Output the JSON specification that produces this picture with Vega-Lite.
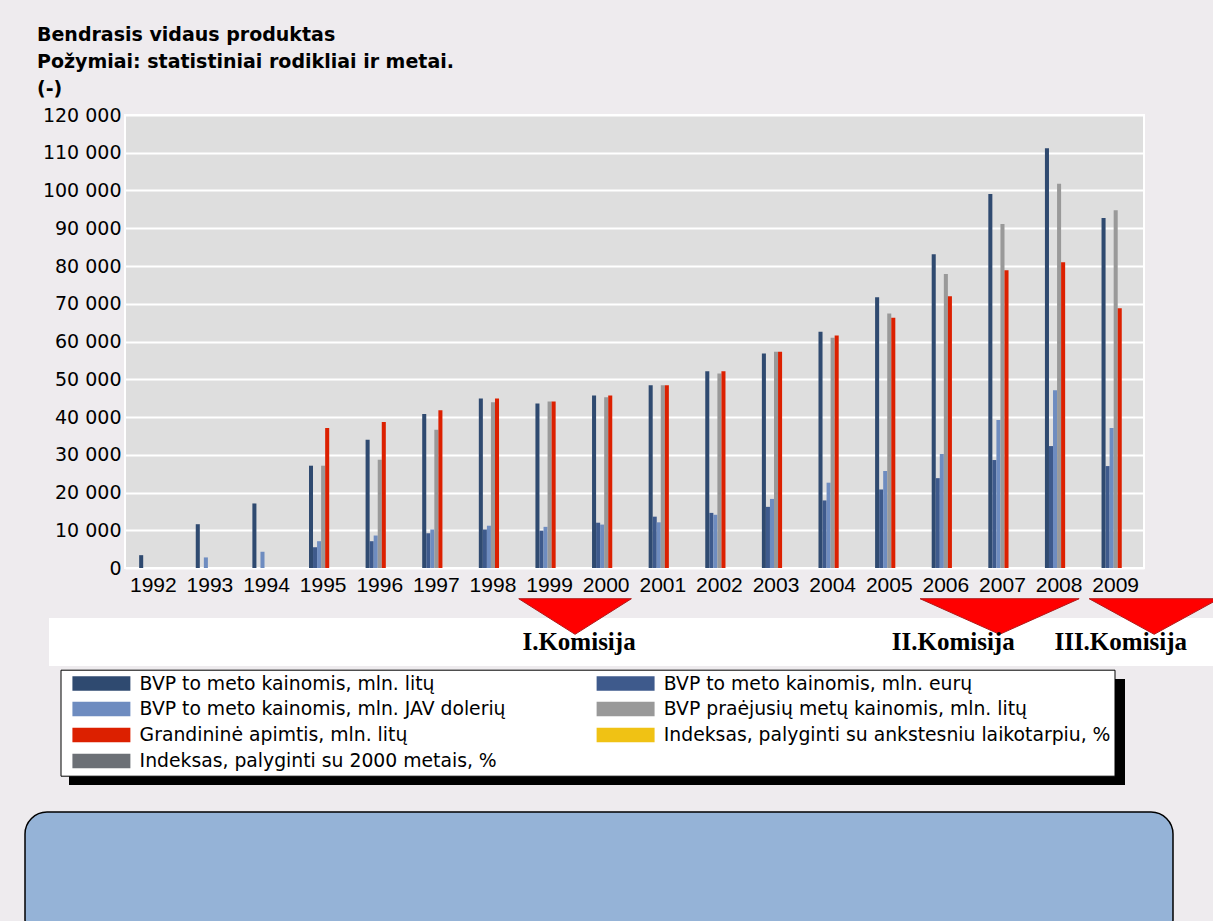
{
  "$schema": "https://vega.github.io/schema/vega-lite/v6.json",
  "background": "#EEEBEE",
  "padding": {"left": 24, "top": 26, "right": 0, "bottom": 0},
  "title": {
    "text": ["Bendrasis vidaus produktas", "Požymiai: statistiniai rodikliai ir metai.", "(-)"],
    "anchor": "start", "frame": "group", "dx": 12, "offset": 6,
    "font": "DejaVu Sans", "fontSize": 19, "fontWeight": "bold", "lineHeight": 27, "color": "black"
  },
  "config": {
    "axis": {"labelColor": "black", "ticks": false, "domain": false, "title": null},
    "legend": {
      "orient": "none", "legendX": 35.5, "legendY": 554.7, "direction": "horizontal",
      "columns": 2, "padding": 4, "rowPadding": 6, "columnPadding": 82.2,
      "strokeColor": "black", "fillColor": "white",
      "symbolType": "M-4,-1L4,-1L4,1L-4,1Z", "symbolSize": 210,
      "symbolOffset": 27.5, "labelOffset": 28.8, "symbolStrokeWidth": 0, "symbolOpacity": 1,
      "labelFont": "DejaVu Sans", "labelFontSize": 18.8, "labelLimit": 1000, "labelColor": "black"
    }
  },
  "datasets": {
    "bvp": [
      {"metai": "1992", "rodiklis": "BVP to meto kainomis, mln. litų", "mln": 3400},
      {"metai": "1993", "rodiklis": "BVP to meto kainomis, mln. litų", "mln": 11600},
      {"metai": "1993", "rodiklis": "BVP to meto kainomis, mln. JAV dolerių", "mln": 2800},
      {"metai": "1994", "rodiklis": "BVP to meto kainomis, mln. litų", "mln": 17100},
      {"metai": "1994", "rodiklis": "BVP to meto kainomis, mln. JAV dolerių", "mln": 4300},
      {"metai": "1995", "rodiklis": "BVP to meto kainomis, mln. litų", "mln": 27100},
      {"metai": "1995", "rodiklis": "BVP to meto kainomis, mln. eurų", "mln": 5500},
      {"metai": "1995", "rodiklis": "BVP to meto kainomis, mln. JAV dolerių", "mln": 7100},
      {"metai": "1995", "rodiklis": "BVP praėjusių metų kainomis, mln. litų", "mln": 27100},
      {"metai": "1995", "rodiklis": "Grandininė apimtis, mln. litų", "mln": 37100},
      {"metai": "1996", "rodiklis": "BVP to meto kainomis, mln. litų", "mln": 34000},
      {"metai": "1996", "rodiklis": "BVP to meto kainomis, mln. eurų", "mln": 7100},
      {"metai": "1996", "rodiklis": "BVP to meto kainomis, mln. JAV dolerių", "mln": 8600},
      {"metai": "1996", "rodiklis": "BVP praėjusių metų kainomis, mln. litų", "mln": 28700},
      {"metai": "1996", "rodiklis": "Grandininė apimtis, mln. litų", "mln": 38700},
      {"metai": "1997", "rodiklis": "BVP to meto kainomis, mln. litų", "mln": 40800},
      {"metai": "1997", "rodiklis": "BVP to meto kainomis, mln. eurų", "mln": 9200},
      {"metai": "1997", "rodiklis": "BVP to meto kainomis, mln. JAV dolerių", "mln": 10200},
      {"metai": "1997", "rodiklis": "BVP praėjusių metų kainomis, mln. litų", "mln": 36600},
      {"metai": "1997", "rodiklis": "Grandininė apimtis, mln. litų", "mln": 41800},
      {"metai": "1998", "rodiklis": "BVP to meto kainomis, mln. litų", "mln": 44900},
      {"metai": "1998", "rodiklis": "BVP to meto kainomis, mln. eurų", "mln": 10200},
      {"metai": "1998", "rodiklis": "BVP to meto kainomis, mln. JAV dolerių", "mln": 11200},
      {"metai": "1998", "rodiklis": "BVP praėjusių metų kainomis, mln. litų", "mln": 43900},
      {"metai": "1998", "rodiklis": "Grandininė apimtis, mln. litų", "mln": 44900},
      {"metai": "1999", "rodiklis": "BVP to meto kainomis, mln. litų", "mln": 43600},
      {"metai": "1999", "rodiklis": "BVP to meto kainomis, mln. eurų", "mln": 9900},
      {"metai": "1999", "rodiklis": "BVP to meto kainomis, mln. JAV dolerių", "mln": 10900},
      {"metai": "1999", "rodiklis": "BVP praėjusių metų kainomis, mln. litų", "mln": 44100},
      {"metai": "1999", "rodiklis": "Grandininė apimtis, mln. litų", "mln": 44100},
      {"metai": "2000", "rodiklis": "BVP to meto kainomis, mln. litų", "mln": 45700},
      {"metai": "2000", "rodiklis": "BVP to meto kainomis, mln. eurų", "mln": 12000},
      {"metai": "2000", "rodiklis": "BVP to meto kainomis, mln. JAV dolerių", "mln": 11500},
      {"metai": "2000", "rodiklis": "BVP praėjusių metų kainomis, mln. litų", "mln": 45200},
      {"metai": "2000", "rodiklis": "Grandininė apimtis, mln. litų", "mln": 45700},
      {"metai": "2001", "rodiklis": "BVP to meto kainomis, mln. litų", "mln": 48400},
      {"metai": "2001", "rodiklis": "BVP to meto kainomis, mln. eurų", "mln": 13600},
      {"metai": "2001", "rodiklis": "BVP to meto kainomis, mln. JAV dolerių", "mln": 12100},
      {"metai": "2001", "rodiklis": "BVP praėjusių metų kainomis, mln. litų", "mln": 48400},
      {"metai": "2001", "rodiklis": "Grandininė apimtis, mln. litų", "mln": 48400},
      {"metai": "2002", "rodiklis": "BVP to meto kainomis, mln. litų", "mln": 52100},
      {"metai": "2002", "rodiklis": "BVP to meto kainomis, mln. eurų", "mln": 14600},
      {"metai": "2002", "rodiklis": "BVP to meto kainomis, mln. JAV dolerių", "mln": 14100},
      {"metai": "2002", "rodiklis": "BVP praėjusių metų kainomis, mln. litų", "mln": 51500},
      {"metai": "2002", "rodiklis": "Grandininė apimtis, mln. litų", "mln": 52100},
      {"metai": "2003", "rodiklis": "BVP to meto kainomis, mln. litų", "mln": 56800},
      {"metai": "2003", "rodiklis": "BVP to meto kainomis, mln. eurų", "mln": 16200},
      {"metai": "2003", "rodiklis": "BVP to meto kainomis, mln. JAV dolerių", "mln": 18300},
      {"metai": "2003", "rodiklis": "BVP praėjusių metų kainomis, mln. litų", "mln": 57300},
      {"metai": "2003", "rodiklis": "Grandininė apimtis, mln. litų", "mln": 57300},
      {"metai": "2004", "rodiklis": "BVP to meto kainomis, mln. litų", "mln": 62600},
      {"metai": "2004", "rodiklis": "BVP to meto kainomis, mln. eurų", "mln": 17900},
      {"metai": "2004", "rodiklis": "BVP to meto kainomis, mln. JAV dolerių", "mln": 22600},
      {"metai": "2004", "rodiklis": "BVP praėjusių metų kainomis, mln. litų", "mln": 61000},
      {"metai": "2004", "rodiklis": "Grandininė apimtis, mln. litų", "mln": 61600},
      {"metai": "2005", "rodiklis": "BVP to meto kainomis, mln. litų", "mln": 71700},
      {"metai": "2005", "rodiklis": "BVP to meto kainomis, mln. eurų", "mln": 20800},
      {"metai": "2005", "rodiklis": "BVP to meto kainomis, mln. JAV dolerių", "mln": 25700},
      {"metai": "2005", "rodiklis": "BVP praėjusių metų kainomis, mln. litų", "mln": 67400},
      {"metai": "2005", "rodiklis": "Grandininė apimtis, mln. litų", "mln": 66300},
      {"metai": "2006", "rodiklis": "BVP to meto kainomis, mln. litų", "mln": 83100},
      {"metai": "2006", "rodiklis": "BVP to meto kainomis, mln. eurų", "mln": 23800},
      {"metai": "2006", "rodiklis": "BVP to meto kainomis, mln. JAV dolerių", "mln": 30200},
      {"metai": "2006", "rodiklis": "BVP praėjusių metų kainomis, mln. litų", "mln": 77900},
      {"metai": "2006", "rodiklis": "Grandininė apimtis, mln. litų", "mln": 72000},
      {"metai": "2007", "rodiklis": "BVP to meto kainomis, mln. litų", "mln": 99100},
      {"metai": "2007", "rodiklis": "BVP to meto kainomis, mln. eurų", "mln": 28600},
      {"metai": "2007", "rodiklis": "BVP to meto kainomis, mln. JAV dolerių", "mln": 39200},
      {"metai": "2007", "rodiklis": "BVP praėjusių metų kainomis, mln. litų", "mln": 91100},
      {"metai": "2007", "rodiklis": "Grandininė apimtis, mln. litų", "mln": 78900},
      {"metai": "2008", "rodiklis": "BVP to meto kainomis, mln. litų", "mln": 111200},
      {"metai": "2008", "rodiklis": "BVP to meto kainomis, mln. eurų", "mln": 32300},
      {"metai": "2008", "rodiklis": "BVP to meto kainomis, mln. JAV dolerių", "mln": 47100},
      {"metai": "2008", "rodiklis": "BVP praėjusių metų kainomis, mln. litų", "mln": 101800},
      {"metai": "2008", "rodiklis": "Grandininė apimtis, mln. litų", "mln": 81000},
      {"metai": "2009", "rodiklis": "BVP to meto kainomis, mln. litų", "mln": 92700},
      {"metai": "2009", "rodiklis": "BVP to meto kainomis, mln. eurų", "mln": 27000},
      {"metai": "2009", "rodiklis": "BVP to meto kainomis, mln. JAV dolerių", "mln": 37100},
      {"metai": "2009", "rodiklis": "BVP praėjusių metų kainomis, mln. litų", "mln": 94800},
      {"metai": "2009", "rodiklis": "Grandininė apimtis, mln. litų", "mln": 68800}
    ],
    "komisijos": [
      {"komisija": "I.Komisija", "trikampis": 1999.45, "zyme": 1999.52},
      {"komisija": "II.Komisija", "trikampis": 2006.95, "zyme": 2006.13},
      {"komisija": "III.Komisija", "trikampis": 2009.68, "zyme": 2009.09}
    ],
    "tuscia": [{}]
  },
  "spacing": 0,
  "vconcat": [
    {
      "bounds": "flush",
      "spacing": 0,
      "hconcat": [
        {"width": 100, "height": 453, "data": {"name": "tuscia"}, "mark": "text", "encoding": {"text": {"value": ""}}, "view": {"stroke": null}},
        {
          "width": 1019, "height": 453,
          "view": {"fill": "#DEDEDE", "stroke": "white", "strokeWidth": 2},
          "data": {"name": "bvp"},
          "mark": {"type": "bar"},
          "encoding": {
            "x": {
              "field": "metai", "type": "nominal",
              "scale": {"paddingInner": 0.5, "paddingOuter": 0.25},
              "axis": {"labelAngle": 0, "labelFont": "Liberation Sans", "labelFontSize": 21, "labelPadding": 6}
            },
            "xOffset": {
              "field": "rodiklis",
              "scale": {"domain": [
                "BVP to meto kainomis, mln. litų",
                "BVP to meto kainomis, mln. eurų",
                "BVP to meto kainomis, mln. JAV dolerių",
                "BVP praėjusių metų kainomis, mln. litų",
                "Grandininė apimtis, mln. litų",
                "Indeksas, palyginti su ankstesniu laikotarpiu, %",
                "Indeksas, palyginti su 2000 metais, %"
              ]}
            },
            "y": {
              "field": "mln", "type": "quantitative",
              "scale": {"domain": [0, 120000], "nice": false},
              "axis": {
                "values": [0, 10000, 20000, 30000, 40000, 50000, 60000, 70000, 80000, 90000, 100000, 110000, 120000],
                "labelExpr": "replace(format(datum.value, ','), ',', ' ')",
                "labelFont": "DejaVu Sans", "labelFontSize": 19, "labelPadding": 4,
                "grid": true, "gridColor": "white", "gridWidth": 2
              }
            },
            "color": {
              "field": "rodiklis", "type": "nominal",
              "scale": {
                "domain": [
                  "BVP to meto kainomis, mln. litų",
                  "BVP to meto kainomis, mln. eurų",
                  "BVP to meto kainomis, mln. JAV dolerių",
                  "BVP praėjusių metų kainomis, mln. litų",
                  "Grandininė apimtis, mln. litų",
                  "Indeksas, palyginti su ankstesniu laikotarpiu, %",
                  "Indeksas, palyginti su 2000 metais, %"
                ],
                "range": ["#2F4A70", "#3E5A8C", "#6E8CC0", "#999999", "#DC2000", "#F0C214", "#6C7076"]
              },
              "legend": {"title": null}
            }
          }
        }
      ]
    },
    {
      "bounds": "flush",
      "spacing": 0,
      "hconcat": [
        {"width": 24, "height": 48, "data": {"name": "tuscia"}, "mark": "text", "encoding": {"text": {"value": ""}}, "view": {"stroke": null}},
        {
          "width": 1165, "height": 48,
          "view": {"fill": "white", "stroke": null},
          "data": {"name": "komisijos"},
          "layer": [
            {
              "mark": {"type": "point", "filled": true, "size": 25600, "opacity": 1, "fill": "#FF0000", "stroke": "#B01818", "strokeWidth": 1, "clip": false},
              "encoding": {
                "x": {"field": "trikampis", "type": "quantitative", "scale": {"domain": [1990.157, 2010.737], "nice": false, "zero": false}, "axis": null},
                "shape": {
                  "field": "komisija", "type": "nominal",
                  "scale": {
                    "domain": ["I.Komisija", "II.Komisija", "III.Komisija"],
                    "range": ["M-0.704,-0.541L0.704,-0.541L0,-0.096Z", "M-0.994,-0.541L0.994,-0.541L0,-0.096Z", "M-0.8125,-0.541L0.8125,-0.541L0,-0.096Z"]
                  },
                  "legend": null
                }
              }
            },
            {
              "mark": {"type": "text", "font": "Liberation Serif", "fontSize": 25, "fontWeight": "bold", "color": "black", "baseline": "middle", "align": "center"},
              "encoding": {
                "x": {"field": "zyme", "type": "quantitative", "axis": null},
                "text": {"field": "komisija"}
              }
            }
          ]
        }
      ]
    },
    {"width": 1, "height": 13, "data": {"name": "tuscia"}, "mark": "text", "encoding": {"text": {"value": ""}}, "view": {"stroke": null}},
    {
      "bounds": "flush",
      "spacing": 0,
      "hconcat": [
        {"width": 44, "height": 106, "data": {"name": "tuscia"}, "mark": "text", "encoding": {"text": {"value": ""}}, "view": {"stroke": null}},
        {"width": 1056, "height": 106, "data": {"name": "tuscia"}, "mark": "text", "encoding": {"text": {"value": ""}}, "view": {"fill": "black", "stroke": null}}
      ]
    },
    {"width": 1, "height": 26, "data": {"name": "tuscia"}, "mark": "text", "encoding": {"text": {"value": ""}}, "view": {"stroke": null}},
    {
      "width": 1148, "height": 130,
      "data": {"name": "tuscia"}, "mark": "text", "encoding": {"text": {"value": ""}},
      "view": {"fill": "#95B3D7", "stroke": "black", "strokeWidth": 1.5, "cornerRadius": 22}
    }
  ]
}
